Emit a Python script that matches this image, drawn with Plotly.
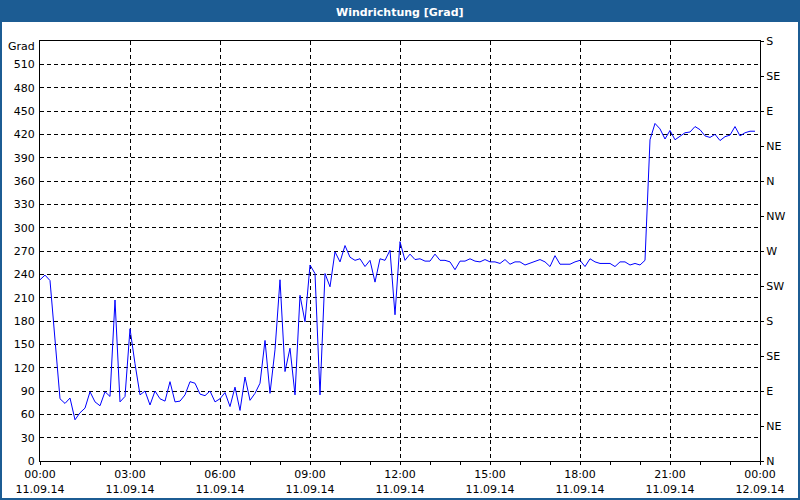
import pandas as pd
import plotly.graph_objects as go

# Windrichtung, 10-Minuten-Werte ab 11.09.14 00:00
richtung = [
    233, 239, 232, 155, 80, 74, 81, 53, 62, 68,
    89, 76, 71, 89, 83, 207, 76, 83, 170, 125,
    85, 90, 72, 90, 80, 77, 102, 76, 77, 85,
    102, 100, 86, 84, 90, 76, 80, 88, 70, 95,
    65, 108, 78, 87, 100, 155, 87, 143, 233, 115,
    145, 85, 213, 179, 252, 241, 85, 241, 224, 269,
    256, 277, 262, 258, 260, 250, 258, 230, 260, 258,
    271, 188, 282, 258, 266, 259, 260, 257, 257, 266,
    258, 258, 256, 246, 257, 257, 260, 257, 256, 259,
    256, 256, 254, 259, 253, 256, 256, 252, 254, 256,
    259, 256, 250, 264, 253, 253, 253, 256, 258, 250,
    260, 256, 254, 254, 254, 250, 256, 256, 252, 254,
    252, 258, 413, 434, 427, 414, 425, 413, 418, 422,
    423, 430, 426, 418, 416, 420, 412, 417, 419, 430,
    418, 422, 424, 424,
]
zeit = pd.date_range("2014-09-11 00:00", periods=len(richtung), freq="10min")

x_ticks = pd.date_range("2014-09-11 00:00", "2014-09-12 00:00", freq="3h")
x_tick_labels = [
    "00:00<br>11.09.14", "03:00<br>11.09.14", "06:00<br>11.09.14",
    "09:00<br>11.09.14", "12:00<br>11.09.14", "15:00<br>11.09.14",
    "18:00<br>11.09.14", "21:00<br>11.09.14", "00:00<br>12.09.14",
]
grad_ticks = list(range(0, 540, 30))
kompass_ticks = list(range(0, 541, 45))
kompass_labels = ["N", "NE", "E", "SE", "S", "SW", "W", "NW",
                  "N", "NE", "E", "SE", "S"]

# der Screenshot staucht die Seite vertikal um 500/508 -> vorab ausgleichen
W, H = 800, 508
S = H / 500
ML, MR = 40, 40
MT, MB = 40 * S, 39 * S
pw, ph = W - ML - MR, H - MT - MB


def px(x):
    return (x - ML) / pw


def py(y):
    return (H - MB - y * S) / ph


BLUE = "#1c5c93"
FONT = "Verdana, DejaVu Sans, sans-serif"

fig = go.Figure()
fig.add_trace(go.Scatter(
    x=zeit, y=richtung, mode="lines",
    line=dict(color="#0000ff", width=1),
    hovertemplate="%{x|%H:%M}<br>%{y}°<extra></extra>",
))
fig.add_trace(go.Scatter(
    x=[zeit[0]], y=[0], yaxis="y2", mode="markers",
    marker=dict(opacity=0), showlegend=False, hoverinfo="skip",
))

fig.update_layout(
    width=W, height=H,
    margin=dict(l=ML, r=MR, t=MT, b=MB),
    paper_bgcolor="white", plot_bgcolor="white",
    showlegend=False,
    font=dict(family=FONT, size=11, color="#000"),
    xaxis=dict(
        type="date",
        range=[x_ticks[0], x_ticks[-1]],
        tickmode="array", tickvals=x_ticks, ticktext=x_tick_labels,
        ticks="outside", ticklen=3, tickcolor="#000",
        minor=dict(dtick=3600000, tick0="2014-09-11 00:00", ticks="outside",
                   ticklen=3, tickcolor="#000"),
        showgrid=True, gridcolor="#000", gridwidth=1, griddash="4px,3px",
        showline=True, linecolor="#000", linewidth=1, mirror=True,
        zeroline=False, fixedrange=True,
    ),
    yaxis=dict(
        range=[0, 540],
        tickmode="array", tickvals=grad_ticks,
        ticks="", ticklabelstandoff=2,
        showgrid=True, gridcolor="#000", gridwidth=1, griddash="4px,3px",
        showline=True, linecolor="#000", linewidth=1, mirror=True,
        zeroline=False, fixedrange=True,
    ),
    yaxis2=dict(
        range=[0, 540], overlaying="y", side="right",
        tickmode="array", tickvals=kompass_ticks, ticktext=kompass_labels,
        ticks="outside", ticklen=3, tickcolor="#000",
        showgrid=False, zeroline=False, showline=False, fixedrange=True,
    ),
)

# Titelleiste und Rahmen
fig.add_shape(type="rect", xref="paper", yref="paper",
              x0=px(0), x1=px(W), y0=py(21), y1=py(0),
              fillcolor=BLUE, line=dict(width=0), layer="above")
fig.add_shape(type="rect", xref="paper", yref="paper",
              x0=px(0), x1=px(W), y0=py(500), y1=py(0),
              fillcolor="rgba(0,0,0,0)", line=dict(color=BLUE, width=4),
              layer="above")

fig.add_annotation(text="<b>Windrichtung [Grad]</b>", xref="paper", yref="paper",
                   x=px(400), y=py(11), xanchor="center", yanchor="middle",
                   showarrow=False, font=dict(color="white", size=11, family=FONT))
fig.add_annotation(text="Grad", xref="paper", yref="paper",
                   x=px(37), y=py(46), xanchor="right", yanchor="middle",
                   showarrow=False, font=dict(size=11, family=FONT))

fig.write_html(
    "out.html",
    config={"displayModeBar": False},
    post_script=("document.body.style.margin='0';"
                 "document.body.style.overflow='hidden';"
                 "document.documentElement.style.overflow='hidden';"),
)
